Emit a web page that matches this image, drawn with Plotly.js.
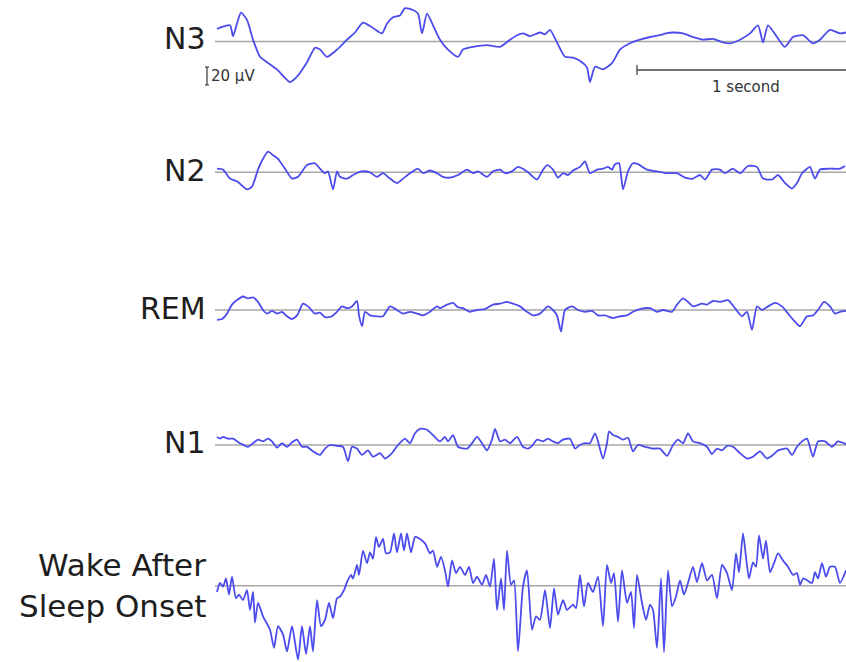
<!DOCTYPE html>
<html>
<head>
<meta charset="utf-8">
<script src="https://cdn.plot.ly/plotly-3.0.1.min.js"></script>
<style>html,body{margin:0;padding:0;background:#fff;}#chart{width:846px;height:662px;}</style>
</head>
<body>
<div id="chart"></div>
<script>
// ---- Data (sample index at fs Hz, amplitude in µV) ----
const fs = 210;
const stageLabels = ['N3', 'N2', 'REM', 'N1', 'Wake After', 'Sleep Onset'];
const scaleBarUV = 20;
const scaleBarSec = 1;
const scaleBarLabels = ['20 µV', '1 second'];

const n3Samples = [0,13,16,20,24,30,36,43,50,60,73,80,90,98,103,110,120,130,138,146,156,165,170,176,183,188,196,201,205,210,216,223,231,241,246,256,270,283,293,300,306,313,323,328,333,340,348,356,365,370,373,378,386,395,403,413,423,433,443,449,456,466,476,486,496,506,513,523,533,541,546,551,560,568,576,586,596,603,613,623,629];
const n3Values = [14,18,6,20,32,24,2,-17,-23,-31,-45,-39,-23,-7,-9,-17,-9,2,10,21,15,9,20,27,29,37,35,31,9,31,18,2,-9,-17,-9,-6,-4,-6,2,7,9,6,10,8,13,-1,-17,-18,-23,-29,-45,-28,-31,-24,-9,-2,2,5,7,9,10,9,5,2,3,-1,-2,2,9,18,-1,18,5,-6,5,7,-2,2,13,9,10];

const n2Samples = [0,6,13,20,30,35,41,46,51,56,
 61,68,75,81,90,98,103,108,111,116,
 120,123,130,136,145,153,160,166,173,180,
 186,193,201,206,213,220,226,233,241,250,
 256,261,270,276,283,288,295,301,310,320,
 325,330,336,341,346,351,356,363,368,373,
 380,386,391,395,398,402,406,411,416,421,
 430,440,450,460,468,476,483,488,495,503,
 508,516,523,531,540,546,555,561,568,575,
 580,585,590,593,598,603,613,623,628];
const n2Values = [4,3,-7,-10,-19,-16,3,15,23,19,
 15,4,-7,-5,8,10,4,-1,1,-19,
 1,-5,-7,-3,1,0,-5,-1,-7,-12,
 -7,-1,4,-1,2,-1,-5,-6,-3,3,
 -1,1,-5,1,3,-1,1,6,1,-8,
 1,8,3,-6,-1,-3,2,6,12,-1,
 3,4,6,3,9,10,-19,1,10,9,
 3,1,-1,-1,-6,-7,-3,-8,3,3,
 -1,4,-1,7,6,-7,-8,-3,-12,-18,
 -12,-1,4,6,-7,3,4,4,7];

const remSamples = [0,5,10,15,20,26,31,36,41,46,
 50,55,60,65,70,75,80,86,91,98,
 103,108,115,120,125,130,135,140,142,145,
 148,153,160,166,173,180,186,193,200,206,
 213,220,223,230,236,241,246,253,260,268,
 276,283,290,296,303,310,316,323,331,336,
 340,344,348,355,361,368,375,381,388,396,
 403,410,416,423,433,440,446,455,460,466,
 471,476,485,490,496,503,511,518,525,530,
 535,540,545,551,558,565,571,578,583,590,
 596,601,607,613,618,623,629];
const remValues = [-11,-10,-4,6,11,15,13,14,9,0,
 -4,-1,-4,-2,-7,-10,-6,7,4,-4,
 -3,-8,-7,-2,4,2,4,10,-6,-18,
 -2,-6,-7,-7,4,0,-4,-2,-4,-6,
 -2,4,2,6,8,3,2,-2,0,1,
 6,7,9,7,4,-2,-6,-4,4,0,
 -6,-24,0,4,0,-2,-1,-6,-6,-9,
 -7,-6,-2,1,2,-2,0,-2,6,13,
 9,4,7,6,10,9,11,2,-7,-2,
 -22,4,0,4,8,4,-4,-13,-18,-7,
 -6,0,9,4,-4,-2,-1];

const n1Samples = [0,3,6,11,16,23,31,36,41,46,
 51,55,60,65,70,75,80,85,90,96,
 103,108,113,120,126,131,135,140,145,151,
 156,163,168,175,181,188,193,198,203,210,
 216,223,228,231,236,241,250,255,260,265,
 270,275,278,283,288,293,300,306,311,315,
 320,326,331,336,341,346,353,358,363,368,
 373,378,381,386,390,392,396,401,406,411,
 416,421,428,436,443,450,456,461,466,471,
 476,483,490,495,500,505,510,516,523,530,
 536,543,550,556,561,570,575,580,585,590,
 596,601,608,615,621,629];
const n1Values = [9,7,9,7,7,2,-2,2,6,4,
 7,4,-3,2,-2,3,6,-2,-2,-7,
 -11,-4,0,-1,-2,-18,-2,-4,-11,-6,
 -13,-9,-15,-9,0,7,2,13,18,17,
 11,4,9,4,11,-2,-4,2,9,2,
 -6,6,18,4,6,2,9,-2,-4,-1,
 6,4,7,4,2,6,7,-4,0,2,
 2,13,4,-15,2,15,11,9,6,8,
 -7,0,-2,-4,-4,-12,0,6,2,13,
 4,2,-2,-10,-4,-6,-1,-2,-9,-15,
 -13,-7,-15,-11,-6,-4,-11,-2,4,7,
 -13,4,4,-2,4,1];

const wasoSamples = [0,3,6,9,12,15,19,22,26,30,
 33,36,38,41,46,53,57,61,66,70,
 75,81,85,89,93,96,100,104,108,112,
 116,120,123,127,130,134,136,140,142,146,
 150,153,156,159,162,166,169,173,177,180,
 184,187,190,194,198,203,208,213,216,220,
 224,228,231,235,239,243,248,252,256,260,
 265,269,273,277,280,284,287,290,294,297,
 301,306,310,315,319,323,328,333,337,341,
 346,350,356,359,363,367,371,376,381,386,
 390,394,397,401,405,410,414,417,420,425,
 429,433,436,440,444,447,451,455,459,463,
 467,471,476,480,485,490,495,500,505,510,
 515,519,522,526,529,532,536,539,542,546,
 549,553,557,561,566,571,576,580,583,586,
 590,595,598,601,605,609,613,618,623,629];
const wasoValues = [-7,3,-1,8,-10,10,-14,-10,-16,-5,
 -27,-7,-41,-19,-34,-49,-69,-45,-54,-73,
 -45,-82,-45,-76,-45,-73,-16,-45,-38,-19,
 -36,-14,-12,-5,4,12,8,23,12,39,
 25,37,30,54,43,52,36,37,58,37,
 58,39,58,37,54,52,47,36,39,21,
 32,17,-1,28,14,21,12,21,3,10,
 1,12,-1,30,-27,8,-27,39,1,6,
 -73,-1,17,-49,-34,-38,-5,-47,-3,-32,
 -16,-27,-21,-25,12,-23,3,-7,10,-45,
 23,3,14,-40,17,-19,-7,-47,12,-19,
 -38,-21,-27,-69,8,-74,17,-23,-12,6,
 -10,3,21,4,25,6,12,-14,23,14,
 -5,36,15,58,32,8,26,21,56,30,
 50,15,25,36,28,21,12,14,1,8,
 6,3,15,8,25,10,21,21,3,17];

// ---- Layout geometry (pixels) ----
const W = 846, H = 662;
const PX_PER_UV = 0.9;          // vertical gain
const T0_PX = 217;              // pixel column of t = 0
const baselinePx = [41.5, 172.3, 310, 445, 585.7];
const tAt = px => (px - T0_PX) / fs;
const yAt = py => -py / PX_PER_UV;

const series = [
  [n3Samples, n3Values],
  [n2Samples, n2Values],
  [remSamples, remValues],
  [n1Samples, n1Values],
  [wasoSamples, wasoValues]
];

const traceColor = '#4c4cec';
const traces = series.map(([s, v], i) => {
  const off = yAt(baselinePx[i]);
  return {
    x: s.map(k => k / fs),
    y: v.map(u => off + u),
    type: 'scatter', mode: 'lines',
    line: {color: traceColor, width: 1.8, shape: 'spline', smoothing: 0.6},
    hoverinfo: 'skip', showlegend: false
  };
});

const barCol = '#444';
const shapes = baselinePx.map(py => ({
  type: 'line', xref: 'x', yref: 'y',
  x0: tAt(215), x1: tAt(W), y0: yAt(py), y1: yAt(py),
  line: {color: '#a6a6a6', width: 1.6}, layer: 'below'
}));
// 1 second bar
const secStart = 2.0;
shapes.push({type: 'line', x0: secStart, x1: secStart + scaleBarSec, y0: yAt(70), y1: yAt(70), line: {color: barCol, width: 1.3}});
shapes.push({type: 'line', x0: secStart, x1: secStart, y0: yAt(65), y1: yAt(75), line: {color: barCol, width: 1.3}});
// 20 µV bar
const uvBottom = yAt(85);
shapes.push({type: 'line', x0: tAt(207), x1: tAt(207), y0: uvBottom, y1: uvBottom + scaleBarUV, line: {color: barCol, width: 1.3}});
shapes.push({type: 'line', x0: tAt(205), x1: tAt(209), y0: uvBottom, y1: uvBottom, line: {color: barCol, width: 1.2}});
shapes.push({type: 'line', x0: tAt(205), x1: tAt(209), y0: uvBottom + scaleBarUV, y1: uvBottom + scaleBarUV, line: {color: barCol, width: 1.2}});

const labSizes = [30, 30, 30, 30, 31, 31];
const labelY = [38, 170, 308, 442, 565, 606];
const annotations = stageLabels.map((t, i) => ({
  text: t, x: tAt(208), y: yAt(labelY[i]), xanchor: 'right', yanchor: 'middle',
  showarrow: false, font: {family: 'DejaVu Sans, Arial, sans-serif', size: labSizes[i], color: '#1e1e1e'}
}));
const smallFont = {family: 'DejaVu Sans, Arial, sans-serif', size: 15, color: '#333'};
annotations.push({text: scaleBarLabels[0], x: tAt(209), y: yAt(76), xanchor: 'left', yanchor: 'middle', showarrow: false, font: smallFont});
annotations.push({text: scaleBarLabels[1], x: tAt(746), y: yAt(87), xanchor: 'center', yanchor: 'middle', showarrow: false, font: smallFont});

const layout = {
  width: W, height: H,
  margin: {l: 0, r: 0, t: 0, b: 0, pad: 0},
  paper_bgcolor: '#fff', plot_bgcolor: '#fff',
  xaxis: {range: [tAt(0), tAt(W)], visible: false, fixedrange: true},
  yaxis: {range: [yAt(H), yAt(0)], visible: false, fixedrange: true},
  shapes: shapes, annotations: annotations, showlegend: false
};
Plotly.newPlot('chart', traces, layout, {displayModeBar: false, staticPlot: true});
</script>
</body>
</html>
